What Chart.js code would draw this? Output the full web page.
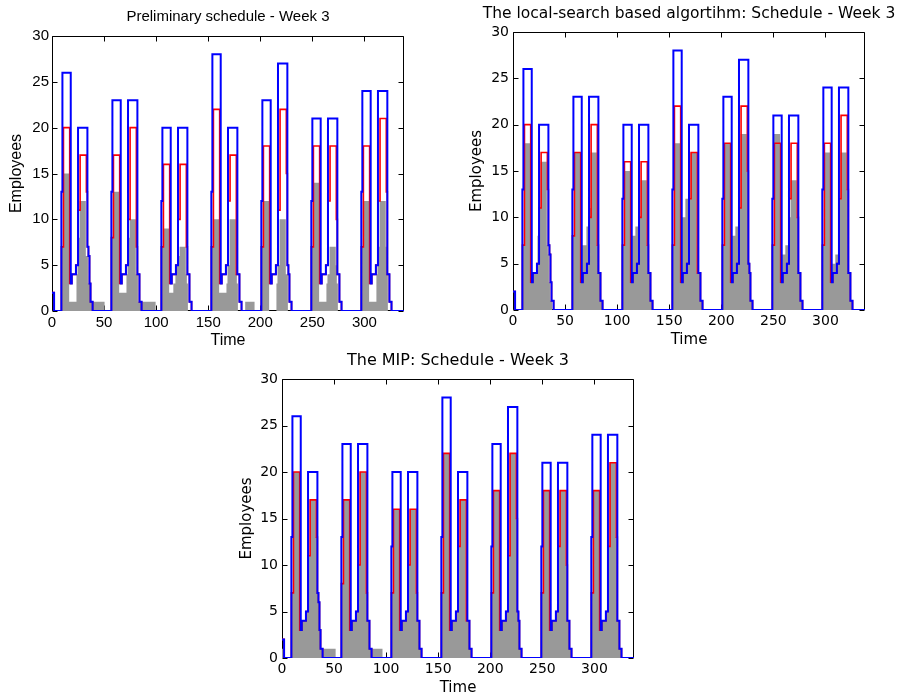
<!DOCTYPE html>
<html><head><meta charset="utf-8">
<script src="https://cdn.jsdelivr.net/npm/chart.js@4.4.0/dist/chart.umd.min.js"></script>
<style>
html,body{margin:0;padding:0;background:#fff;}
body{width:899px;height:698px;position:relative;overflow:hidden;}
canvas{position:absolute;}
</style></head><body>
<canvas id="c1" width="456" height="350" style="left:0;top:0"></canvas>
<canvas id="c2" width="498" height="350" style="left:440px;top:0"></canvas>
<canvas id="c3" width="456" height="353" style="left:230px;top:345px"></canvas>
<script>
// ---- data (half-hour slots over one week) ----
const titles = [
  'Preliminary schedule - Week 3',
  'The local-search based algortihm: Schedule - Week 3',
  'The MIP: Schedule - Week 3'
];
const xTickLabels = [0, 50, 100, 150, 200, 250, 300];
const yTickLabels = [0, 5, 10, 15, 20, 25, 30];
const xMax = 338;

// blue: maximum staffing
const maxStaff = [
  2,2,0,0,0,0,0,0,0,13,26,26,26,26,26,26,26,26,3,4,4,4,4,5,5,20,20,20,20,20,20,20,20,20,7,6,3,1,1,0,0,0,0,0,0,0,0,0,
  0,0,0,0,0,0,0,0,0,13,23,23,23,23,23,23,23,23,3,4,4,4,4,5,5,23,23,23,23,23,23,23,23,23,4,4,1,1,0,0,0,0,0,0,0,0,0,0,
  0,0,0,0,0,0,0,0,0,12,20,20,20,20,20,20,20,20,3,4,4,4,4,5,5,20,20,20,20,20,20,20,20,20,4,4,1,1,0,0,0,0,0,0,0,0,0,0,
  0,0,0,0,0,0,0,0,0,13,28,28,28,28,28,28,28,28,3,4,4,4,4,5,5,20,20,20,20,20,20,20,20,20,4,4,1,1,0,0,0,0,0,0,0,0,0,0,
  0,0,0,0,0,0,0,0,0,12,23,23,23,23,23,23,23,23,3,4,4,4,4,5,5,27,27,27,27,27,27,27,27,27,5,4,1,1,0,0,0,0,0,0,0,0,0,0,
  0,0,0,0,0,0,0,0,0,12,21,21,21,21,21,21,21,21,3,4,4,4,4,5,5,21,21,21,21,21,21,21,21,21,4,4,1,1,0,0,0,0,0,0,0,0,0,0,
  0,0,0,0,0,0,0,0,0,13,24,24,24,24,24,24,24,24,3,4,4,4,4,5,5,24,24,24,24,24,24,24,24,24,4,4,1,1,0,0,0,0,0,0,0,0,0,0,0,0
];
// red: required staffing
const requiredStaff = [
  2,2,0,0,0,0,0,0,0,7,7,20,20,20,20,20,20,3,3,4,4,4,4,5,5,11,11,17,17,17,17,17,17,13,7,6,3,1,1,0,0,0,0,0,0,0,0,0,
  0,0,0,0,0,0,0,0,0,8,8,17,17,17,17,17,17,3,3,4,4,4,4,5,5,10,10,20,20,20,20,20,20,7,4,4,1,1,0,0,0,0,0,0,0,0,0,0,
  0,0,0,0,0,0,0,0,0,7,7,16,16,16,16,16,16,3,3,4,4,4,4,5,5,10,10,16,16,16,16,16,16,7,4,4,1,1,0,0,0,0,0,0,0,0,0,0,
  0,0,0,0,0,0,0,0,0,7,7,22,22,22,22,22,22,3,3,4,4,4,4,5,5,12,12,17,17,17,17,17,17,4,4,4,1,1,0,0,0,0,0,0,0,0,0,0,
  0,0,0,0,0,0,0,0,0,7,7,18,18,18,18,18,18,3,3,4,4,4,4,5,5,11,11,22,22,22,22,22,22,15,5,4,1,1,0,0,0,0,0,0,0,0,0,0,
  0,0,0,0,0,0,0,0,0,7,7,18,18,18,18,18,18,3,3,4,4,4,4,5,5,12,12,18,18,18,18,18,18,10,4,4,1,1,0,0,0,0,0,0,0,0,0,0,
  0,0,0,0,0,0,0,0,0,7,7,18,18,18,18,18,18,3,3,4,4,4,4,5,5,12,12,21,21,21,21,21,21,13,4,4,1,1,0,0,0,0,0,0,0,0,0,0,0,0
];
// gray bars: scheduled employees, preliminary schedule
const prelimScheduled = [
  0,0,0,0,0,0,0,0,0,0,7,15,15,15,15,15,15,1,1,1,1,1,1,1,4,8,8,12,12,12,12,12,12,6,6,3,3,1,1,1,1,1,1,1,1,1,1,1,
  1,1,1,0,0,0,0,0,0,0,8,13,13,13,13,13,13,2,2,2,2,2,2,2,4,8,8,10,10,10,10,10,10,4,4,1,1,1,1,1,1,1,1,1,1,1,1,1,
  1,1,1,1,0,0,0,0,0,0,7,9,9,9,9,9,9,2,2,2,2,3,3,4,5,6,6,7,7,7,7,7,7,4,3,0,0,0,0,0,0,0,0,0,0,0,0,0,
  0,0,0,0,0,0,0,0,0,0,7,10,10,10,10,10,10,2,2,2,2,2,2,2,3,5,5,10,10,10,10,10,10,4,3,0,0,0,0,0,0,0,1,1,1,1,1,1,
  1,1,1,0,0,0,0,0,0,0,7,12,12,12,12,12,12,0,0,0,0,0,0,0,3,5,5,10,10,10,10,10,10,4,4,0,0,0,0,0,0,0,0,0,0,0,0,0,
  0,0,0,0,0,0,0,0,0,0,7,14,14,14,14,14,14,1,1,1,1,1,1,1,3,4,4,7,7,7,7,7,7,5,3,0,0,0,0,0,0,0,0,0,0,0,0,0,
  0,0,0,0,0,0,0,0,0,0,7,12,12,12,12,12,12,1,1,1,1,1,1,1,4,7,7,12,12,12,12,12,12,7,4,0,0,0,0,0,0,0,0,0,0,0,0,0,0,0
];
// gray bars: local-search schedule
const localSearchScheduled = [
  0,0,0,0,0,0,0,0,0,0,7,18,18,18,18,18,18,3,3,4,4,4,4,5,8,8,11,16,16,16,16,16,16,7,6,3,1,1,0,0,0,0,0,0,0,0,0,0,
  0,0,0,0,0,0,0,0,0,0,8,17,17,17,17,17,17,3,7,7,7,7,7,9,9,9,11,17,17,17,17,17,17,7,4,4,1,1,0,0,0,0,0,0,0,0,0,0,
  0,0,0,0,0,0,0,0,0,0,7,15,15,15,15,15,15,3,8,8,8,8,9,9,9,9,10,14,14,14,14,14,14,7,4,4,1,1,0,0,0,0,0,0,0,0,0,0,
  0,0,0,0,0,0,0,0,0,0,7,18,18,18,18,18,18,3,10,10,10,10,12,12,12,12,12,17,17,17,17,17,17,4,4,4,1,1,0,0,0,0,0,0,0,0,0,0,
  0,0,0,0,0,0,0,0,0,0,7,18,18,18,18,18,18,3,8,8,8,8,9,9,9,11,11,19,19,19,19,19,19,15,5,4,1,1,0,0,0,0,0,0,0,0,0,0,
  0,0,0,0,0,0,0,0,0,0,7,19,19,19,19,19,19,3,6,6,6,6,7,7,7,10,10,14,14,14,14,14,14,10,4,4,1,1,0,0,0,0,0,0,0,0,0,0,
  0,0,0,0,0,0,0,0,0,0,7,17,17,17,17,17,17,3,5,5,5,5,6,6,6,12,12,17,17,17,17,17,17,13,4,4,1,1,0,0,0,0,0,0,0,0,0,0,0,0
];
// gray bars: MIP schedule
const mipScheduled = [
  1,1,0,0,0,0,0,0,0,0,7,20,20,20,20,20,20,3,3,4,4,4,4,5,5,11,11,17,17,17,17,17,17,13,7,6,3,1,1,0,1,1,1,1,1,1,1,1,
  1,1,1,1,0,0,0,0,0,0,8,17,17,17,17,17,17,3,3,4,4,4,4,5,5,10,10,20,20,20,20,20,20,7,4,4,1,1,0,1,1,1,1,1,1,1,1,1,
  1,0,0,0,0,0,0,0,0,0,7,16,16,16,16,16,16,3,3,4,4,4,4,5,5,10,10,16,16,16,16,16,16,7,4,4,1,1,0,0,0,0,0,0,0,0,0,0,
  0,0,0,0,0,0,0,0,0,0,7,22,22,22,22,22,22,3,3,4,4,4,4,5,5,12,12,17,17,17,17,17,17,4,4,4,1,1,0,0,0,0,0,0,0,0,0,0,
  0,0,0,0,0,0,0,0,0,0,7,18,18,18,18,18,18,3,3,4,4,4,4,5,5,11,11,22,22,22,22,22,22,15,5,4,1,1,0,0,0,0,0,0,0,0,0,0,
  0,0,0,0,0,0,0,0,0,0,7,18,18,18,18,18,18,3,3,4,4,4,4,5,5,12,12,18,18,18,18,18,18,10,4,4,1,1,0,0,0,0,0,0,0,0,0,0,
  0,0,0,0,0,0,0,0,0,0,7,18,18,18,18,18,18,3,3,4,4,4,4,5,5,12,12,21,21,21,21,21,21,13,4,4,1,1,0,0,0,0,0,0,0,0,0,0,0,0
];

// ---- drawing ----
function stairs(arr, offset) {
  const pts = arr.map((v, i) => ({x: i + offset, y: v}));
  pts.push({x: arr.length + offset, y: arr[arr.length - 1]});
  return pts;
}

const frame = {
  id: 'frame',
  beforeDatasetsDraw(chart) {
    const {ctx, chartArea: a, scales: {x, y}} = chart;
    ctx.save();
    ctx.strokeStyle = '#000';
    ctx.lineWidth = 1;
    ctx.beginPath();
    const L = Math.round(a.left) + 0.5, R = Math.round(a.right) - 0.5;
    const T = Math.round(a.top) + 0.5, B = Math.round(a.bottom) - 0.5;
    ctx.rect(L, T, R - L, B - T);
    for (const v of yTickLabels) {
      const p = Math.round(y.getPixelForValue(v)) + 0.5;
      ctx.moveTo(L, p); ctx.lineTo(L + 5, p);
      ctx.moveTo(R, p); ctx.lineTo(R - 5, p);
    }
    for (const v of xTickLabels) {
      const p = Math.round(x.getPixelForValue(v)) + 0.5;
      ctx.moveTo(p, B); ctx.lineTo(p, B - 5);
      ctx.moveTo(p, T); ctx.lineTo(p, T + 5);
    }
    ctx.stroke();
    ctx.restore();
  }
};

const panels = [
  {id: 'c1', title: titles[0], values: prelimScheduled, font: 'Liberation Sans', titleSize: 15, tickSize: 15, axisSize: 16,
   area: {left: 52, right: 404, top: 36, bottom: 311}, titleTop: 8, yTitlePad: 7, xTitlePad: 0, yTickPad: 3},
  {id: 'c2', title: titles[1], values: localSearchScheduled, font: 'DejaVu Sans', titleSize: 15.5, tickSize: 14, axisSize: 15,
   area: {left: 73, right: 425, top: 32, bottom: 310}, titleTop: 5, yTitlePad: 28, xTitlePad: 1, yTickPad: 4},
  {id: 'c3', title: titles[2], values: mipScheduled, font: 'DejaVu Sans', titleSize: 16, tickSize: 14, axisSize: 15,
   area: {left: 52, right: 404, top: 34, bottom: 313}, titleTop: 6, yTitlePad: 8, xTitlePad: 1, yTickPad: 4}
];

for (const p of panels) {
  const canvas = document.getElementById(p.id);
  const W = canvas.width, H = canvas.height;
  const titleLH = p.titleSize * 1.2;
  new Chart(canvas, {
    type: 'line',
    data: {
      datasets: [
        {label: 'Maximum', data: stairs(maxStaff, 0), borderColor: '#0000ff', borderWidth: 2,
         stepped: true, pointRadius: 0, fill: false},
        {label: 'Required', data: stairs(requiredStaff, 0), borderColor: '#ff0000', borderWidth: 1.6,
         stepped: true, pointRadius: 0, fill: false},
        {label: 'Scheduled', data: stairs(p.values, -0.5), borderColor: 'rgba(0,0,0,0)', borderWidth: 0,
         backgroundColor: '#999999', stepped: true, pointRadius: 0, fill: 'origin'}
      ]
    },
    options: {
      responsive: false, animation: false, devicePixelRatio: 1,
      layout: {padding: 0},
      plugins: {
        legend: {display: false}, tooltip: {enabled: false},
        title: {display: true, text: p.title, fullSize: true, color: '#000',
                font: {family: p.font, size: p.titleSize, weight: 'normal'},
                padding: {top: p.titleTop, bottom: p.area.top - p.titleTop - titleLH}}
      },
      scales: {
        x: {type: 'linear', min: 0, max: xMax,
            grid: {display: false, drawTicks: false}, border: {display: false},
            afterBuildTicks: s => { s.ticks = xTickLabels.map(v => ({value: v})); },
            afterFit: s => { s.height = H - p.area.bottom; },
            ticks: {color: '#000', font: {family: p.font, size: p.tickSize}, padding: 3, maxRotation: 0, autoSkip: false},
            title: {display: true, text: 'Time', color: '#000', font: {family: p.font, size: p.axisSize},
                    padding: {top: 0, bottom: p.xTitlePad}}},
        y: {type: 'linear', min: 0, max: 30,
            grid: {display: false, drawTicks: false}, border: {display: false},
            afterBuildTicks: s => { s.ticks = yTickLabels.map(v => ({value: v})); },
            afterFit: s => { s.width = p.area.left; },
            ticks: {color: '#000', font: {family: p.font, size: p.tickSize}, padding: p.yTickPad, autoSkip: false},
            title: {display: true, text: 'Employees', color: '#000', font: {family: p.font, size: p.axisSize},
                    padding: {top: p.yTitlePad, bottom: 0}}},
        yRight: {type: 'linear', axis: 'y', position: 'right', min: 0, max: 30, display: true,
            grid: {display: false, drawTicks: false}, border: {display: false},
            ticks: {display: false},
            afterFit: s => { s.width = W - p.area.right; }}
      }
    },
    plugins: [frame]
  });
}
</script>
</body></html>
